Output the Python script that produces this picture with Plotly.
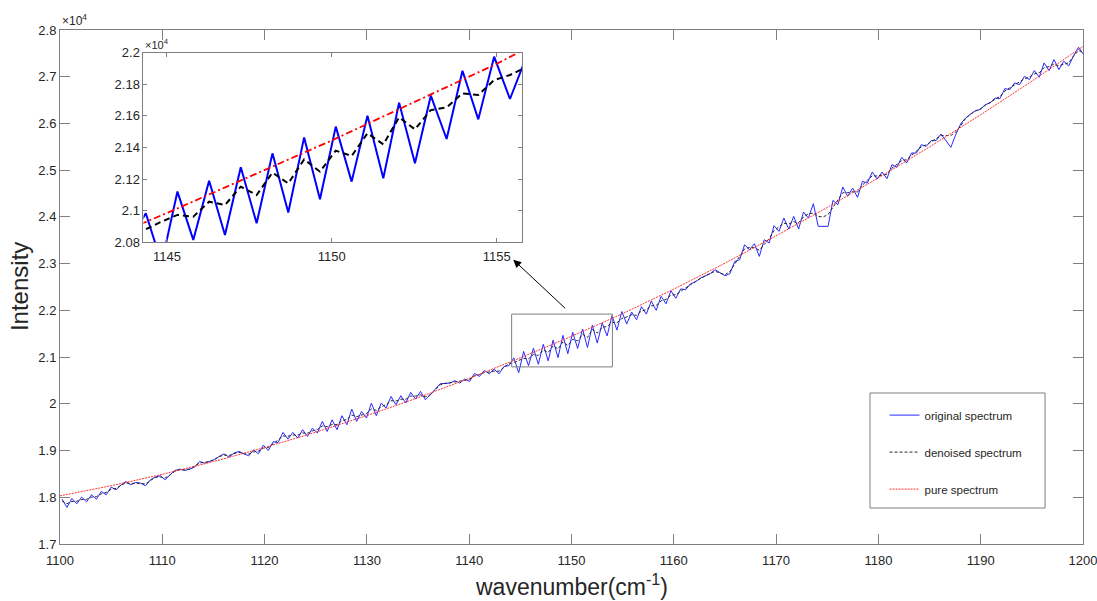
import plotly.graph_objects as go

# ---------------- data ----------------
wavenumber = [
    1100.20, 1100.68, 1101.16, 1101.64, 1102.12, 1102.60, 1103.08, 1103.56, 1104.04, 1104.52,
    1105.00, 1105.48, 1105.96, 1106.44, 1106.92, 1107.40, 1107.88, 1108.36, 1108.84, 1109.32,
    1109.80, 1110.28, 1110.76, 1111.24, 1111.72, 1112.20, 1112.68, 1113.16, 1113.64, 1114.12,
    1114.60, 1115.08, 1115.56, 1116.04, 1116.52, 1117.00, 1117.48, 1117.96, 1118.44, 1118.92,
    1119.40, 1119.88, 1120.36, 1120.84, 1121.32, 1121.80, 1122.28, 1122.76, 1123.24, 1123.72,
    1124.20, 1124.68, 1125.16, 1125.64, 1126.12, 1126.60, 1127.08, 1127.56, 1128.04, 1128.52,
    1129.00, 1129.48, 1129.96, 1130.44, 1130.92, 1131.40, 1131.88, 1132.36, 1132.84, 1133.32,
    1133.80, 1134.28, 1134.76, 1135.24, 1135.72, 1136.20, 1136.68, 1137.16, 1137.64, 1138.12,
    1138.60, 1139.08, 1139.56, 1140.04, 1140.52, 1141.00, 1141.48, 1141.96, 1142.44, 1142.92,
    1143.40, 1143.88, 1144.36, 1144.84, 1145.32, 1145.80, 1146.28, 1146.76, 1147.24, 1147.72,
    1148.20, 1148.68, 1149.16, 1149.64, 1150.12, 1150.60, 1151.08, 1151.56, 1152.04, 1152.52,
    1153.00, 1153.48, 1153.96, 1154.44, 1154.92, 1155.40, 1155.88, 1156.36, 1156.84, 1157.32,
    1157.80, 1158.28, 1158.76, 1159.24, 1159.72, 1160.20, 1160.68, 1161.16, 1161.64, 1162.12,
    1162.60, 1163.08, 1163.56, 1164.04, 1164.52, 1165.00, 1165.48, 1165.96, 1166.44, 1166.92,
    1167.40, 1167.88, 1168.36, 1168.84, 1169.32, 1169.80, 1170.28, 1170.76, 1171.24, 1171.72,
    1172.20, 1172.68, 1173.16, 1173.64, 1174.12, 1174.60, 1175.08, 1175.56, 1176.04, 1176.52,
    1177.00, 1177.48, 1177.96, 1178.44, 1178.92, 1179.40, 1179.88, 1180.36, 1180.84, 1181.32,
    1181.80, 1182.28, 1182.76, 1183.24, 1183.72, 1184.20, 1184.68, 1185.16, 1185.64, 1186.12,
    1186.60, 1187.08, 1187.56, 1188.04, 1188.52, 1189.00, 1189.48, 1189.96, 1190.44, 1190.92,
    1191.40, 1191.88, 1192.36, 1192.84, 1193.32, 1193.80, 1194.28, 1194.76, 1195.24, 1195.72,
    1196.20, 1196.68, 1197.16, 1197.64, 1198.12, 1198.60, 1199.08, 1199.56, 1200.04,
]

original_spectrum = [
    17960, 17782, 17974, 17860, 18003, 17903, 18053, 17960, 18124, 18053,
    18217, 18160, 18260, 18338, 18267, 18317, 18303, 18245, 18374, 18431,
    18460, 18374, 18481, 18574, 18602, 18574, 18602, 18645, 18766, 18731,
    18766, 18802, 18873, 18931, 18859, 18945, 18981, 18931, 18887, 19016,
    18931, 19116, 19000, 19190, 19170, 19388, 19245, 19388, 19266, 19445,
    19302, 19480, 19374, 19623, 19409, 19659, 19445, 19745, 19552, 19887,
    19623, 19837, 19695, 20016, 19745, 20016, 19909, 20158, 19980, 20173,
    20016, 20244, 20101, 20266, 20087, 20194, 20301, 20430, 20437, 20444,
    20494, 20444, 20530, 20479, 20650, 20586, 20714, 20643, 20743, 20643,
    20800, 20815, 20984, 20667, 21121, 20815, 21190, 20846, 21275, 20920,
    21363, 20988, 21464, 21072, 21532, 21184, 21601, 21205, 21684, 21300,
    21728, 21454, 21886, 21578, 21975, 21707, 21964, 21800, 22080, 21920,
    22200, 22000, 22300, 22140, 22420, 22260, 22460, 22440, 22570, 22610,
    22691, 22741, 22784, 22870, 22798, 22741, 22784, 23048, 23084, 23405,
    23298, 23426, 23155, 23512, 23441, 23812, 23690, 23976, 23740, 24012,
    23740, 24104, 23976, 24283, 23798, 23798, 23798, 24354, 24261, 24640,
    24440, 24618, 24418, 24761, 24725, 24961, 24811, 24960, 24818, 25118,
    25061, 25275, 25154, 25368, 25368, 25546, 25511, 25632, 25632, 25775,
    25618, 25489, 25760, 25989, 26117, 26203, 26274, 26296, 26403, 26438,
    26545, 26531, 26745, 26724, 26867, 26831, 27009, 26938, 27131, 26988,
    27295, 27131, 27366, 27152, 27331, 27230, 27450, 27630, 27480,
]

denoised_spectrum = [
    17920, 17861, 17909, 17915, 17951, 17956, 18001, 18015, 18074, 18103,
    18170, 18193, 18255, 18306, 18293, 18303, 18294, 18285, 18359, 18425,
    18435, 18415, 18478, 18560, 18590, 18586, 18605, 18662, 18733, 18746,
    18766, 18809, 18870, 18903, 18893, 18934, 18963, 18932, 18924, 18971,
    18988, 19052, 19065, 19145, 19221, 19311, 19306, 19332, 19330, 19377,
    19370, 19420, 19449, 19525, 19508, 19560, 19554, 19640, 19664, 19760,
    19725, 19761, 19793, 19890, 19860, 19936, 19985, 20067, 20059, 20099,
    20098, 20165, 20166, 20193, 20148, 20194, 20306, 20404, 20437, 20453,
    20473, 20473, 20501, 20526, 20600, 20627, 20672, 20679, 20701, 20698,
    20770, 20860, 20882, 20931, 20973, 20962, 21057, 21036, 21152, 21099,
    21241, 21173, 21325, 21247, 21380, 21346, 21490, 21420, 21591, 21515,
    21637, 21654, 21743, 21732, 21827, 21859, 21907, 21894, 21987, 22013,
    22098, 22106, 22202, 22234, 22327, 22337, 22413, 22472, 22551, 22619,
    22684, 22740, 22793, 22836, 22801, 22762, 22831, 22999, 23145, 23314,
    23348, 23341, 23288, 23421, 23535, 23707, 23777, 23865, 23848, 23896,
    23875, 24000, 24068, 24080, 24010, 24000, 24050, 24200, 24361, 24517,
    24520, 24538, 24533, 24680, 24783, 24879, 24875, 24898, 24912, 25042,
    25119, 25204, 25225, 25323, 25406, 25501, 25544, 25606, 25662, 25740,
    25740, 25740, 25820, 25950, 26108, 26200, 26263, 26314, 26388, 26453,
    26519, 26579, 26695, 26759, 26829, 26876, 26956, 26994, 27060, 27084,
    27195, 27216, 27271, 27236, 27272, 27298, 27441, 27560, 27520,
]

pure_wavenumber = [1100, 1105, 1110, 1115, 1120, 1125, 1130, 1135, 1140, 1145, 1150,
                   1155, 1160, 1165, 1170, 1175, 1180, 1185, 1190, 1195, 1200]
pure_spectrum = [18030, 18247, 18491, 18764, 19064, 19392, 19748, 20130, 20545, 20985, 21445,
                 21930, 22455, 23010, 23596, 24202, 24836, 25498, 26187, 26905, 27650]

main_xticks = [1100, 1110, 1120, 1130, 1140, 1150, 1160, 1170, 1180, 1190, 1200]
main_yticks = [17000, 18000, 19000, 20000, 21000, 22000, 23000, 24000, 25000, 26000, 27000, 28000]
main_ylabels = ["1.7", "1.8", "1.9", "2", "2.1", "2.2", "2.3", "2.4", "2.5", "2.6", "2.7", "2.8"]
inset_xticks = [1145, 1150, 1155]
inset_yticks = [20800, 21000, 21200, 21400, 21600, 21800, 22000]
inset_ylabels = ["2.08", "2.1", "2.12", "2.14", "2.16", "2.18", "2.2"]

assert len(wavenumber) == len(original_spectrum) == len(denoised_spectrum)

# ---------------- figure ----------------
FONT = "Liberation Sans, Arial, Helvetica, sans-serif"
AX = "#7f7f7f"
TXT = "#262626"

fig = go.Figure()

# main traces
fig.add_trace(go.Scatter(x=wavenumber, y=original_spectrum, mode="lines",
                         name="original spectrum", legendgroup="a",
                         line=dict(color="rgb(40,40,255)", width=1)))
fig.add_trace(go.Scatter(x=wavenumber, y=denoised_spectrum, mode="lines",
                         name="denoised spectrum", legendgroup="b",
                         line=dict(color="rgb(40,40,40)", width=1, dash="3px,2px")))
fig.add_trace(go.Scatter(x=pure_wavenumber, y=pure_spectrum, mode="lines",
                         name="pure spectrum", legendgroup="c",
                         line=dict(color="rgb(255,50,50)", width=1, dash="2px,1px")))

# inset traces
fig.add_trace(go.Scatter(x=wavenumber, y=original_spectrum, mode="lines", showlegend=False,
                         xaxis="x2", yaxis="y2", line=dict(color="rgb(0,0,255)", width=2)))
fig.add_trace(go.Scatter(x=wavenumber, y=denoised_spectrum, mode="lines", showlegend=False,
                         xaxis="x2", yaxis="y2", line=dict(color="black", width=2, dash="6px,4px")))
fig.add_trace(go.Scatter(x=pure_wavenumber, y=pure_spectrum, mode="lines", showlegend=False,
                         xaxis="x2", yaxis="y2",
                         line=dict(color="rgb(255,0,0)", width=1.8, dash="7px,3px,2px,3px")))

axis_common = dict(showgrid=False, zeroline=False, showline=True, linecolor=AX, linewidth=1,
                   mirror="ticks", ticks="inside", tickcolor=AX, tickwidth=1, automargin=False)

fig.update_layout(
    width=1097, height=601,
    margin=dict(l=60, r=14, t=30, b=57, autoexpand=False),
    paper_bgcolor="white", plot_bgcolor="white",
    font=dict(family=FONT, color=TXT),
    xaxis=dict(range=[1100, 1200], tickvals=main_xticks, ticklen=10,
               ticklabeloverflow="allow", ticklabelstandoff=4,
               tickfont=dict(size=13, color=TXT), **axis_common),
    yaxis=dict(range=[17000, 28000], tickvals=main_yticks, ticktext=main_ylabels, ticklen=10,
               tickfont=dict(size=13, color=TXT), **axis_common),
    xaxis2=dict(domain=[0.0816, 0.4521], anchor="y2", range=[1144.29, 1155.78],
                tickvals=inset_xticks, ticklen=4, ticklabelstandoff=2,
                tickfont=dict(size=13, color=TXT), **axis_common),
    yaxis2=dict(domain=[0.587, 0.9558], anchor="x2", range=[20800, 22000],
                tickvals=inset_yticks, ticktext=inset_ylabels, ticklen=4,
                tickfont=dict(size=13, color=TXT), **axis_common),
    showlegend=True,
    legend=dict(x=0.806, y=0.279, xanchor="left", yanchor="top",
                bgcolor="rgba(0,0,0,0)", borderwidth=0, itemwidth=30,
                tracegroupgap=18, font=dict(size=11.5, color=TXT, family=FONT)),
)

# zoom box, legend frame
fig.add_shape(type="rect", xref="x", yref="y", x0=1144.15, x1=1154.0, y0=20790, y1=21920,
              line=dict(color=AX, width=1))
fig.add_shape(type="rect", xref="paper", yref="paper", x0=0.7918, x1=0.9629, y0=0.070, y1=0.2938,
              line=dict(color=AX, width=1))

# arrow from box to inset
fig.add_annotation(x=1144.31, y=23084, ax=1149.53, ay=22014, xref="x", yref="y",
                   axref="x", ayref="y", text="", showarrow=True, arrowhead=2,
                   arrowsize=1.6, arrowwidth=1, arrowcolor="black", standoff=0)

# exponent labels
fig.add_annotation(x=0, y=1, xref="paper", yref="paper", xanchor="left", yanchor="bottom",
                   text="×10<sup>4</sup>", showarrow=False, font=dict(size=12, color=TXT))
fig.add_annotation(x=0.0816, y=0.9558, xref="paper", yref="paper", xanchor="left",
                   yanchor="bottom", text="×10<sup>4</sup>", showarrow=False,
                   font=dict(size=11, color=TXT))

# axis titles
fig.add_annotation(x=0.5, y=-0.08, xref="paper", yref="paper", xanchor="center",
                   yanchor="middle", text="wavenumber(cm<sup>-1</sup>)", showarrow=False,
                   font=dict(size=23, color=TXT))
fig.add_annotation(x=-0.04, y=0.5, xref="paper", yref="paper", xanchor="center",
                   yanchor="middle", text="Intensity", textangle=-90, showarrow=False,
                   font=dict(size=24, color=TXT))

fig.write_html("out.html")
